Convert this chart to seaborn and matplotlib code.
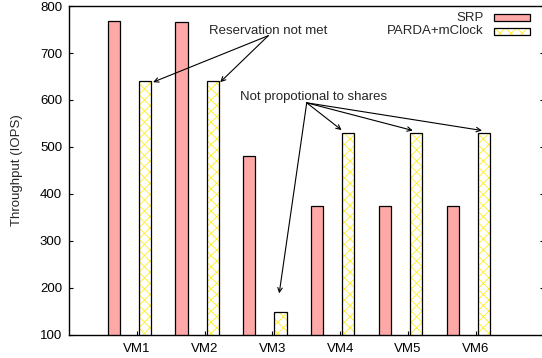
import numpy as np
import pandas as pd
import matplotlib
matplotlib.use("Agg")
import matplotlib.pyplot as plt
from matplotlib.patches import Rectangle
import seaborn as sns

# Throughput per VM under the two schedulers
vms = ["VM1", "VM2", "VM3", "VM4", "VM5", "VM6"]
srp = [769, 767, 480, 375, 375, 375]
parda = [641, 640, 149, 529, 529, 529]

sns.set_style("white")
plt.rcParams["font.family"] = ["Liberation Sans", "DejaVu Sans"]
plt.rcParams["hatch.linewidth"] = 0.6

fig = plt.figure(figsize=(5.42, 3.58), dpi=100)
ax = fig.add_axes([0.1273, 0.065, 0.8757, 0.918])

pos = np.arange(1, len(vms) + 1)
bar_w = 0.18
srp_off = -0.34
parda_off = 0.12

df_srp = pd.DataFrame({"x": pos + srp_off, "y": srp})
df_parda = pd.DataFrame({"x": pos + parda_off, "y": parda})

pink = "#ffa8a8"
hatch_col = "#ffee22"
fs = 9.5

sns.barplot(data=df_srp, x="x", y="y", native_scale=True, width=bar_w,
            color=pink, saturation=1, edgecolor="black", linewidth=0.9, ax=ax)
# hatched fill in yellow, then a black outline on top
sns.barplot(data=df_parda, x="x", y="y", native_scale=True, width=bar_w,
            color="white", saturation=1, edgecolor=hatch_col, linewidth=0,
            hatch="xxx", ax=ax)
sns.barplot(data=df_parda, x="x", y="y", native_scale=True, width=bar_w,
            fill=False, edgecolor="black", linewidth=0.9, ax=ax)

ax.set_xlim(0, 7)
ax.set_ylim(100, 800)
ax.set_xticks(pos)
ax.set_xticklabels(vms)
ax.set_yticks(np.arange(100, 801, 100))
ax.set_xlabel("")
ax.set_ylabel("Throughput (IOPS)", fontsize=fs, labelpad=12)
ax.tick_params(axis="both", labelsize=fs, direction="in", length=3, width=0.8,
               colors="black")
ax.tick_params(axis="y", right=True, left=True, pad=5)
ax.tick_params(axis="x", bottom=True, top=False, pad=6)
for s in ax.spines.values():
    s.set_color("black")
    s.set_linewidth(1.0)

arrow = dict(arrowstyle="->", color="black", lw=0.8,
             shrinkA=0, shrinkB=0, mutation_scale=8)

ax.text(2.935, 746, "Reservation not met", fontsize=fs, ha="center", va="center")
for hx in (1.24, 2.23):
    ax.annotate("", xy=(hx, 638), xytext=(2.94, 737), arrowprops=arrow)

ax.text(3.60, 607, "Not propotional to shares", fontsize=fs,
        ha="center", va="center")
for hx, hy in ((3.10, 188), (4.02, 536), (5.07, 535), (6.09, 535)):
    ax.annotate("", xy=(hx, hy), xytext=(3.506, 594), arrowprops=arrow)

# legend, label text to the left of each swatch
labels = ["SRP", "PARDA+mClock"]
for i, lab in enumerate(labels):
    y = 0.994 - 0.042 * (i + 1)
    ax.text(0.873, y + 0.013, lab, transform=ax.transAxes, fontsize=fs,
            ha="right", va="center")
    if i == 0:
        ax.add_patch(Rectangle((0.896, y + 0.003), 0.075, 0.021,
                               transform=ax.transAxes, facecolor=pink,
                               edgecolor="black", linewidth=0.9))
    else:
        ax.add_patch(Rectangle((0.896, y + 0.003), 0.075, 0.021,
                               transform=ax.transAxes, facecolor="white",
                               edgecolor=hatch_col, linewidth=0, hatch="xxx"))
        ax.add_patch(Rectangle((0.896, y + 0.003), 0.075, 0.021,
                               transform=ax.transAxes, fill=False,
                               edgecolor="black", linewidth=0.9))

fig.savefig("out.png", dpi=100)
